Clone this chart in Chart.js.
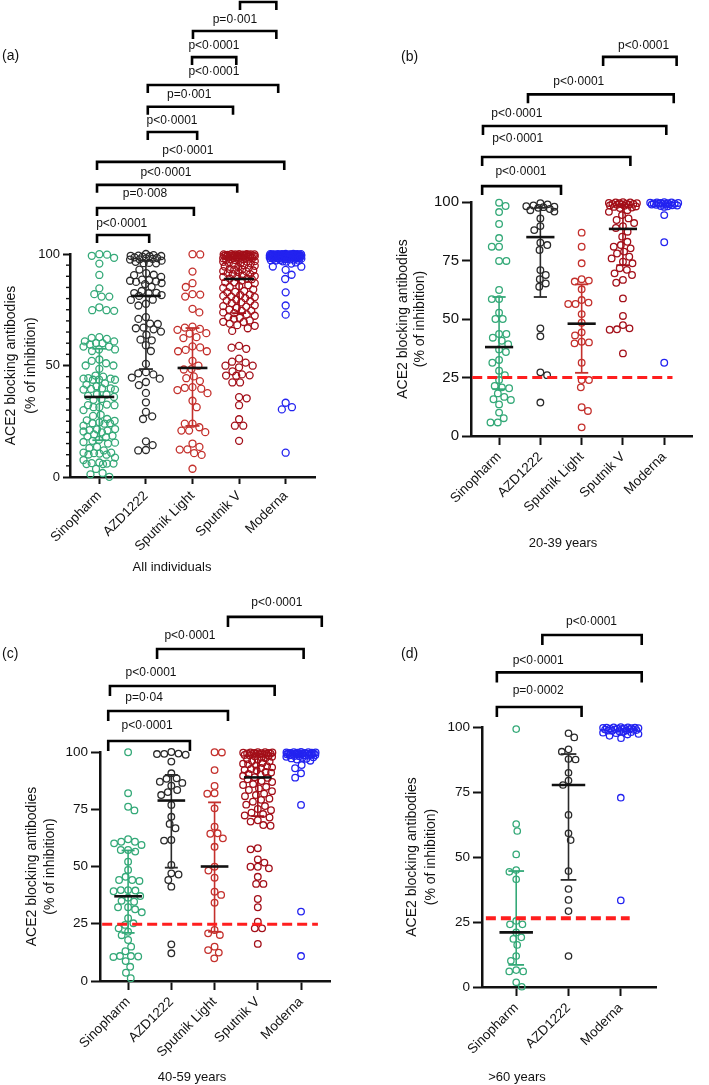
<!DOCTYPE html>
<html><head><meta charset="utf-8">
<script src="https://cdn.jsdelivr.net/npm/chart.js@4.4.1/dist/chart.umd.min.js"></script>
<style>
html,body{margin:0;padding:0;background:#fff;}
body{width:709px;height:1085px;position:relative;overflow:hidden;}
.pn{position:absolute;}
canvas{display:block;}
</style></head>
<body>
<div class="pn" style="left:0;top:0;"><canvas id="cA" width="354" height="580" style="width:354px;height:580px"></canvas></div>
<div class="pn" style="left:354px;top:0;"><canvas id="cB" width="355" height="580" style="width:355px;height:580px"></canvas></div>
<div class="pn" style="left:0;top:580px;"><canvas id="cC" width="354" height="505" style="width:354px;height:505px"></canvas></div>
<div class="pn" style="left:354px;top:580px;"><canvas id="cD" width="355" height="505" style="width:355px;height:505px"></canvas></div>
<script>
// ---------- categories ----------
const cats5 = ['Sinopharm', 'AZD1222', 'Sputnik Light', 'Sputnik V', 'Moderna'];
const cats3 = ['Sinopharm', 'AZD1222', 'Moderna'];
const yTitle = ['ACE2 blocking antibodies', '(% of inhibition)'];

// ---------- (b) 20-39 years ----------
const sinoB = [99.7, 98.3, 95.7, 90.6, 84.6, 80.9, 80.9, 74.8, 74.8, 62.4, 58.5, 58.5, 52.7, 50, 50, 43.6, 43.6, 42, 40.7, 39.2, 37, 35.9, 32.5, 31.3, 27.9, 26, 23.9, 21.4, 20.8, 20.4, 18.2, 16.7, 15.7, 15.4, 13.5, 10, 7.6, 5.8, 5.8];
const azdB = [99.5, 99, 98.5, 98.2, 98, 97.8, 97.5, 97, 96.5, 95.9, 93, 89.7, 88, 82.6, 81.6, 79.5, 70.9, 68.8, 67, 65.2, 63.8, 46, 42.6, 27.2, 26, 14.3];
const slB = [86.9, 80.9, 73.8, 67, 66.4, 66, 62.7, 58.1, 57, 56.4, 56.4, 52.1, 48.4, 44.3, 43, 40.3, 40, 39.6, 31.3, 23.9, 23.9, 20.8, 12.3, 10.7, 3.7];
const svB = [99.9, 99.8, 99.8, 99.6, 99.5, 99.5, 99.3, 99.2, 99.2, 99.0, 98.8, 98.8, 98.5, 98.4, 98.1, 97.9, 97.6, 97.4, 96.5, 95.8, 94.4, 93.0, 92.3, 91.0, 89.7, 88.9, 87.3, 85.2, 83.0, 81.6, 80.9, 80.2, 78.8, 78.0, 76.6, 75.9, 74.5, 73.8, 71.7, 71.0, 69.5, 68.8, 66.7, 65.5, 58.8, 51.3, 47.4, 46.0, 45.6, 45.4, 35.3];
const modB = [99.9, 99.8, 99.8, 99.7, 99.6, 99.6, 99.5, 99.4, 99.3, 99.3, 99.2, 99.1, 99.0, 98.9, 98.8, 98.6, 98.5, 98.3, 98.2, 97.9, 94.4, 82.8, 31.3];
const medB = [38, 85, 48, 88.5, null];
const q1B = [20, 59.4, 27, 73, null];
const q3B = [59.4, 97.5, 64.8, 99, null];

// ---------- (c) 40-59 years ----------
const sinoC = [99.9, 82, 76.1, 74.5, 61.9, 60.8, 60.8, 60.1, 59.4, 57.2, 57.2, 56.5, 52.1, 48.5, 45.5, 44.1, 44.1, 43.7, 39.7, 39.7, 39.5, 39.2, 37.1, 36.4, 35, 34.6, 32.2, 32.2, 31.3, 30, 27.4, 25.2, 24.5, 23, 21.5, 20, 17.9, 15, 13, 10.9, 10.9, 10.7, 10.5, 8.7, 6.2, 3.6, 1.2];
const azdC = [100, 99.3, 99.2, 99.1, 98.8, 95.8, 90.7, 88.5, 88.3, 87, 86.5, 85.3, 83.4, 82.5, 81.2, 76.9, 71.7, 68.6, 66.7, 61.6, 61.3, 50.7, 47, 46.5, 44.1, 41.2, 16, 12.1];
const slC = [99.9, 99.8, 92.1, 85.2, 82, 81.8, 75.4, 67.4, 64.5, 64.3, 62.3, 58.6, 49.9, 48.2, 45.1, 39, 37.6, 34.2, 22.3, 20.8, 20.1, 15, 13.5, 12.4, 9.9];
const svC = [99.9, 99.9, 99.8, 99.8, 99.7, 99.6, 99.6, 99.5, 99.4, 99.3, 99.3, 99.2, 99.1, 99.0, 98.9, 98.7, 98.6, 98.4, 98.1, 97.9, 97.6, 97.3, 96.8, 96.6, 96.1, 95.8, 95.2, 94.9, 94.7, 94.1, 93.8, 93.3, 93.0, 92.6, 92.2, 91.9, 91.3, 91.0, 90.4, 90.1, 89.6, 89.0, 88.7, 88.1, 87.3, 86.9, 86.0, 85.6, 84.8, 84.1, 83.4, 82.9, 81.8, 81.2, 80.7, 79.6, 79.1, 78.3, 77.0, 76.4, 75.1, 74.6, 73.5, 72.9, 72.3, 71.4, 70.2, 69.6, 68.1, 67.8, 58.0, 57.5, 53.1, 51.7, 49.9, 49.9, 49.2, 45.5, 42.4, 42.4, 35.8, 32.2, 25.9, 23.0, 23.0, 16.2];
const modC = [100, 99.9, 99.9, 99.8, 99.8, 99.7, 99.7, 99.6, 99.6, 99.5, 99.5, 99.4, 99.4, 99.3, 99.2, 99.2, 99.1, 99.0, 99.0, 98.9, 98.8, 98.7, 98.6, 98.5, 98.4, 98.2, 98.1, 97.9, 97.7, 97.5, 97.2, 97.0, 96.7, 96.2, 94.3, 92.9, 90.7, 88.8, 76.9, 30.3, 10.9];
const medC = [37, 78.8, 50, 88.9, null];
const q1C = [21, 49.5, 21.5, 72, null];
const q3C = [57, 90, 78, 99, null];

// ---------- (d) >60 years ----------
const sinoD = [99.2, 62.7, 60, 51, 45, 44.3, 41.4, 25.4, 24.1, 24.1, 21, 19.1, 18.5, 16.2, 11.9, 10.1, 6.5, 6, 6, 1.8, 0.1];
const azdD = [97.6, 96, 91.4, 90.5, 87.7, 87.5, 82.4, 79.4, 77.7, 66.2, 59.1, 56.5, 44.6, 37.7, 33.5, 29.2, 11.9];
const modD = [100, 99.9, 99.9, 99.8, 99.8, 99.7, 99.6, 99.6, 99.5, 99.4, 99.4, 99.3, 99.2, 99.1, 99.0, 98.9, 98.8, 98.7, 98.6, 98.5, 98.3, 98.2, 98.0, 97.8, 97.6, 97.3, 97.1, 96.6, 95.7, 72.8, 33.3];
const medD = [21, 77.7, null];
const q1D = [8.5, 41.2, null];
const q3D = [44.6, 89.6, null];

// ---------- (a) all individuals ----------
const sinoA = [99.7, 98.3, 95.7, 90.6, 84.6, 80.9, 80.9, 74.8, 74.8, 62.4, 58.5, 58.5, 52.7, 50, 50, 43.6, 43.6, 42, 40.7, 39.2, 37, 35.9, 32.5, 31.3, 27.9, 26, 23.9, 21.4, 20.8, 20.4, 18.2, 16.7, 15.7, 15.4, 13.5, 10, 7.6, 5.8, 5.8,
  99.9, 82, 76.1, 74.5, 61.9, 60.8, 60.8, 60.1, 59.4, 57.2, 57.2, 56.5, 52.1, 48.5, 45.5, 44.1, 44.1, 43.7, 39.7, 39.7, 39.5, 39.2, 37.1, 36.4, 35, 34.6, 32.2, 32.2, 31.3, 30, 27.4, 25.2, 24.5, 23, 21.5, 20, 17.9, 15, 13, 10.9, 10.9, 10.7, 10.5, 8.7, 6.2, 3.6, 1.2,
  99.2, 62.7, 60, 51, 45, 44.3, 41.4, 25.4, 24.1, 24.1, 21, 19.1, 18.5, 16.2, 11.9, 10.1, 6.5, 6, 6, 1.8, 0.1];
const azdA = [99.5, 99, 98.5, 98.2, 98, 97.8, 97.5, 97, 96.5, 95.9, 93, 89.7, 88, 82.6, 81.6, 79.5, 70.9, 68.8, 67, 65.2, 63.8, 46, 42.6, 27.2, 26, 14.3,
  100, 99.3, 99.2, 99.1, 98.8, 95.8, 90.7, 88.5, 88.3, 87, 86.5, 85.3, 83.4, 82.5, 81.2, 76.9, 71.7, 68.6, 66.7, 61.6, 61.3, 50.7, 47, 46.5, 44.1, 41.2, 16, 12.1,
  97.6, 96, 91.4, 90.5, 87.7, 87.5, 82.4, 79.4, 77.7, 66.2, 59.1, 56.5, 44.6, 37.7, 33.5, 29.2, 11.9];
const slA = [86.9, 80.9, 73.8, 67, 66.4, 66, 62.7, 58.1, 57, 56.4, 56.4, 52.1, 48.4, 44.3, 43, 40.3, 40, 39.6, 31.3, 23.9, 23.9, 20.8, 12.3, 10.7, 3.7,
  99.9, 99.8, 92.1, 85.2, 82, 81.8, 75.4, 67.4, 64.5, 64.3, 62.3, 58.6, 49.9, 48.2, 45.1, 39, 37.6, 34.2, 22.3, 20.8, 20.1, 15, 13.5, 12.4, 9.9];
const svA = [99.9, 99.8, 99.8, 99.6, 99.5, 99.5, 99.3, 99.2, 99.2, 99.0, 98.8, 98.8, 98.5, 98.4, 98.1, 97.9, 97.6, 97.4, 96.5, 95.8, 94.4, 93.0, 92.3, 91.0, 89.7, 88.9, 87.3, 85.2, 83.0, 81.6, 80.9, 80.2, 78.8, 78.0, 76.6, 75.9, 74.5, 73.8, 71.7, 71.0, 69.5, 68.8, 66.7, 65.5, 58.8, 51.3, 47.4, 46.0, 45.6, 45.4, 35.3,
  99.9, 99.9, 99.8, 99.8, 99.7, 99.6, 99.6, 99.5, 99.4, 99.3, 99.3, 99.2, 99.1, 99.0, 98.9, 98.7, 98.6, 98.4, 98.1, 97.9, 97.6, 97.3, 96.8, 96.6, 96.1, 95.8, 95.2, 94.9, 94.7, 94.1, 93.8, 93.3, 93.0, 92.6, 92.2, 91.9, 91.3, 91.0, 90.4, 90.1, 89.6, 89.0, 88.7, 88.1, 87.3, 86.9, 86.0, 85.6, 84.8, 84.1, 83.4, 82.9, 81.8, 81.2, 80.7, 79.6, 79.1, 78.3, 77.0, 76.4, 75.1, 74.6, 73.5, 72.9, 72.3, 71.4, 70.2, 69.6, 68.1, 67.8, 58.0, 57.5, 53.1, 51.7, 49.9, 49.9, 49.2, 45.5, 42.4, 42.4, 35.8, 32.2, 25.9, 23.0, 23.0, 16.2];
const modA = [99.9, 99.8, 99.8, 99.7, 99.6, 99.6, 99.5, 99.4, 99.3, 99.3, 99.2, 99.1, 99.0, 98.9, 98.8, 98.6, 98.5, 98.3, 98.2, 97.9, 94.4, 82.8, 31.3,
  100, 99.9, 99.9, 99.8, 99.8, 99.7, 99.7, 99.6, 99.6, 99.5, 99.5, 99.4, 99.4, 99.3, 99.2, 99.2, 99.1, 99.0, 99.0, 98.9, 98.8, 98.7, 98.6, 98.5, 98.4, 98.2, 98.1, 97.9, 97.7, 97.5, 97.2, 97.0, 96.7, 96.2, 94.3, 92.9, 90.7, 88.8, 76.9, 30.3, 10.9,
  100, 99.9, 99.9, 99.8, 99.8, 99.7, 99.6, 99.6, 99.5, 99.4, 99.4, 99.3, 99.2, 99.1, 99.0, 98.9, 98.8, 98.7, 98.6, 98.5, 98.3, 98.2, 98.0, 97.8, 97.6, 97.3, 97.1, 96.6, 95.7, 72.8, 33.3];
const medA = [35.9, 81.2, 48.9, 88.8, null];
const q1A = [16.5, 48.4, 22.9, 73.5, null];
const q3A = [57.5, 97, 66.8, 98.5, null];

// ---------- cut-off and significance annotations ----------
const cutB = 25, cutC = 24.8, cutD = 26.4;
// [from, to, level, label, labelX, labelY] in axis units
const bracketsA = [
  [-0.05, 1.07, 108.5, 'p<0·0001', 0.48, 113.5],
  [-0.05, 2.03, 120.6, 'p=0·008', 0.98, 126.9],
  [-0.05, 2.96, 131, 'p<0·0001', 1.43, 136.3],
  [-0.05, 3.97, 141.3, 'p<0·0001', 1.9, 146.2],
  [1.04, 2.1, 154.7, 'p<0·0001', 1.56, 160],
  [1.04, 2.87, 166, 'p=0·001', 1.93, 171.3],
  [1.04, 3.84, 175.8, 'p<0·0001', 2.46, 181.6],
  [1.99, 2.94, 188.3, 'p<0·0001', 2.46, 193.3],
  [2.01, 3.8, 200, 'p=0·001', 2.91, 205],
  [3.02, 3.8, 213, '', 0, 0]
];
const bracketsB = [
  [-0.41, 1.5, 106.8, 'p<0·0001', 0.53, 112.8],
  [-0.41, 3.18, 119.2, 'p<0·0001', 0.45, 126.9],
  [-0.39, 4.05, 132.5, 'p<0·0001', 0.43, 137.6],
  [0.7, 4.23, 146, 'p<0·0001', 1.93, 151.3],
  [2.52, 4.3, 162, 'p<0·0001', 3.5, 166.9]
];
const bracketsC = [
  [-0.46, 1.43, 104.8, 'p<0·0001', 0.44, 111.4],
  [-0.46, 2.31, 117.9, 'p=0·04', 0.37, 123.6],
  [-0.42, 3.39, 128.8, 'p<0·0001', 0.53, 134.5],
  [0.67, 4.06, 145, 'p<0·0001', 1.43, 151],
  [2.31, 4.48, 159, 'p<0·0001', 3.44, 165]
];
const bracketsD = [
  [-0.37, 1.25, 107.7, 'p=0·0002', 0.42, 113.8],
  [-0.37, 2.4, 121, 'p<0·0001', 0.42, 125.6],
  [0.5, 2.4, 135.4, 'p<0·0001', 1.44, 140.6]
];

// ---------- styles ----------
const FONT = "'Liberation Sans', Arial, Helvetica, sans-serif";
const INK = '#111';
const col5 = ['#34a978', '#2a2a2a', '#c4302c', '#a30f19', '#2323f0'];
const col3 = ['#34a978', '#2a2a2a', '#2323f0'];

// ---------- swarm layout (horizontal offsets computed from the library scales) ----------
function swarmOffsets(pys, maxHalf, d) {
  const order = pys.map((p, i) => i).sort((a, b) => pys[a] - pys[b]);
  const placed = [], res = new Array(pys.length);
  let flip = 1;
  for (const i of order) {
    const py = pys[i];
    const ivs = [];
    for (const q of placed) {
      const dy = Math.abs(q.y - py);
      if (dy < d) { const w = Math.sqrt(d * d - dy * dy); ivs.push([q.x - w, q.x + w]); }
    }
    const cands = [0];
    ivs.forEach(v => cands.push(v[0], v[1]));
    cands.sort((a, b) => (Math.abs(a) - Math.abs(b)) || (flip * (b - a)));
    let best = null;
    for (const c of cands) {
      if (Math.abs(c) > maxHalf) break;
      if (ivs.every(v => c <= v[0] + 1e-6 || c >= v[1] - 1e-6)) { best = c; break; }
    }
    if (best === null) {
      let bestScore = -1;
      for (let c = -maxHalf; c <= maxHalf + 1e-9; c += 0.5) {
        let m = Infinity;
        for (const q of placed) { const dd = Math.hypot(q.x - c, q.y - py); if (dd < m) m = dd; }
        if (m > bestScore + 1e-9) { bestScore = m; best = c; }
      }
    }
    if (best !== 0) flip = -flip;
    placed.push({ x: best, y: py });
    res[i] = best;
  }
  return res;
}

const decor = {
  id: 'decor',
  afterDraw(chart, args, o) {
    const { ctx } = chart;
    const x = chart.scales.x, y = chart.scales.y;
    ctx.save();
    // minor y ticks
    if (o.minorStep) {
      ctx.strokeStyle = INK; ctx.lineWidth = 1.4;
      for (let v = 0; v <= 100; v += o.minorStep) {
        if (v % o.majorStep === 0) continue;
        const py = y.getPixelForValue(v);
        ctx.beginPath(); ctx.moveTo(x.left - o.minorLen, py); ctx.lineTo(x.left, py); ctx.stroke();
      }
    }
    // significance brackets
    ctx.strokeStyle = '#000'; ctx.lineWidth = o.bw; ctx.lineJoin = 'miter'; ctx.lineCap = 'butt';
    ctx.fillStyle = INK; ctx.font = '12px ' + FONT; ctx.textAlign = 'center'; ctx.textBaseline = 'middle';
    o.brackets.forEach(b => {
      const x1 = x.getPixelForValue(b[0]), x2 = x.getPixelForValue(b[1]), py = y.getPixelForValue(b[2]);
      ctx.beginPath();
      ctx.moveTo(x1, py + o.tip); ctx.lineTo(x1, py); ctx.lineTo(x2, py); ctx.lineTo(x2, py + o.tip);
      ctx.stroke();
      if (b[3]) ctx.fillText(b[3], x.getPixelForValue(b[4]), y.getPixelForValue(b[5]));
    });
    // x-axis title
    ctx.font = '13px ' + FONT;
    ctx.fillText(o.xTitle[0], o.xTitle[1], o.xTitle[2]);
    // panel letter
    ctx.font = '14px ' + FONT; ctx.textAlign = 'left';
    ctx.fillText(o.letter[0], o.letter[1], o.letter[2]);
    ctx.restore();
  }
};

function makePanel(id, P) {
  const g = P.geo;
  const unit = (g.right - g.left) / (g.xmax - g.xmin);
  const datasets = [];
  P.series.forEach((vals, ci) => {
    datasets.push({
      type: 'scatter', label: P.cats[ci], swarmIndex: ci,
      data: vals.map(v => ({ x: ci, y: v })),
      pointRadius: P.r, pointHoverRadius: P.r, pointBorderWidth: 1.3, pointHoverBorderWidth: 1.3,
      borderColor: P.colors[ci], pointBorderColor: P.colors[ci],
      backgroundColor: 'rgba(0,0,0,0)', pointBackgroundColor: 'rgba(0,0,0,0)',
      order: 3, clip: false
    });
    if (P.q1[ci] != null) {
      datasets.push({
        type: 'line', label: P.cats[ci] + ' IQR',
        data: [{ x: ci, y: P.q1[ci] }, { x: ci, y: P.q3[ci] }],
        borderColor: P.colors[ci], borderWidth: 1.6,
        pointStyle: 'line', pointRadius: 0.15 * unit, pointHoverRadius: 0.15 * unit,
        pointBorderColor: P.colors[ci], pointBorderWidth: 1.8, pointBackgroundColor: P.colors[ci],
        order: 2, clip: false, fill: false
      });
    }
  });
  datasets.push({
    type: 'scatter', label: 'median',
    data: P.med.map((m, i) => m == null ? null : { x: i, y: m }).filter(p => p),
    pointStyle: 'line', pointRadius: 0.32 * unit, pointHoverRadius: 0.32 * unit,
    pointBorderColor: INK, borderColor: INK, pointBorderWidth: 2.6, order: 1, clip: false
  });
  if (P.cut != null) {
    datasets.push({
      type: 'line', label: 'cut-off',
      data: [{ x: P.cutX[0], y: P.cut }, { x: P.cutX[1], y: P.cut }],
      borderColor: '#ff1e1e', borderWidth: P.cutW, borderDash: P.dash, pointRadius: 0,
      order: 0, clip: false, fill: false
    });
  }
  const axisGrid = { drawOnChartArea: false, drawTicks: true, tickLength: P.tickLen, tickWidth: 2, tickColor: INK, color: INK };
  const axisBorder = { display: true, color: INK, width: 2.5 };
  const cfg = {
    type: 'scatter',
    data: { datasets },
    options: {
      responsive: false, animation: false, devicePixelRatio: 1, events: [],
      layout: { padding: { left: 0, top: g.top, right: g.w - g.right, bottom: 0 } },
      plugins: {
        legend: { display: false }, tooltip: { enabled: false },
        decor: {
          brackets: P.brackets, tip: P.tip, bw: 2.6,
          minorStep: P.minorStep, majorStep: P.yStep, minorLen: 4,
          xTitle: P.xTitle, letter: P.letter
        }
      },
      scales: {
        x: {
          type: 'linear', min: g.xmin, max: g.xmax,
          afterBuildTicks: s => { s.ticks = P.cats.map((c, i) => ({ value: i })); },
          afterFit: s => { s.height = g.h - g.bottom; },
          ticks: {
            autoSkip: false, minRotation: 45, maxRotation: 45, padding: P.xPad, color: INK,
            font: { family: FONT, size: P.catFont },
            callback: v => P.cats[Math.round(v)]
          },
          grid: axisGrid, border: axisBorder
        },
        y: {
          type: 'linear', min: 0, max: 100,
          afterFit: s => { s.width = g.left; },
          ticks: { stepSize: P.yStep, padding: 3, color: INK, font: { family: FONT, size: P.yFont } },
          grid: axisGrid, border: axisBorder,
          title: {
            display: true, text: yTitle, color: INK,
            font: { family: FONT, size: 14, lineHeight: P.titleLH + 'px' },
            padding: { top: P.titlePad, bottom: 0 }
          }
        }
      }
    },
    plugins: [decor]
  };
  const chart = new Chart(document.getElementById(id), cfg);
  // beeswarm spread
  const xs = chart.scales.x, ys = chart.scales.y;
  const u = xs.getPixelForValue(1) - xs.getPixelForValue(0);
  chart.data.datasets.forEach(ds => {
    if (ds.swarmIndex === undefined) return;
    const pys = ds.data.map(p => ys.getPixelForValue(p.y));
    const offs = swarmOffsets(pys, 0.34 * u, 2 * P.r + 0.7);
    ds.data.forEach((p, k) => { p.x = ds.swarmIndex + offs[k] / u; });
  });
  chart.update('none');
  return chart;
}

makePanel('cA', {
  geo: { w: 354, h: 580, left: 70, right: 315, top: 254, bottom: 477, xmin: -0.63, xmax: 4.63 },
  cats: cats5, colors: col5, series: [sinoA, azdA, slA, svA, modA],
  med: medA, q1: q1A, q3: q3A, cut: null,
  brackets: bracketsA, tip: 8, r: 3.5, yStep: 50, minorStep: 5, yFont: 13, catFont: 13.5,
  tickLen: 7, xPad: 4, titleLH: 20, titlePad: 1,
  xTitle: ['All individuals', 172, 567], letter: ['(a)', 2, 56]
});
makePanel('cB', {
  geo: { w: 355, h: 580, left: 117, right: 353, top: 202, bottom: 436, xmin: -0.68, xmax: 4.68 },
  cats: cats5, colors: col5, series: [sinoB, azdB, slB, svB, modB],
  med: medB, q1: q1B, q3: q3B, cut: cutB, cutX: [-0.65, 4.2], cutW: 3, dash: [10, 5],
  brackets: bracketsB, tip: 9, r: 3.3, yStep: 25, minorStep: 0, yFont: 15, catFont: 13.5,
  tickLen: 9, xPad: 4, titleLH: 17.5, titlePad: 40,
  xTitle: ['20-39 years', 209, 543], letter: ['(b)', 47, 57]
});
makePanel('cC', {
  geo: { w: 354, h: 505, left: 100, right: 330, top: 172, bottom: 401, xmin: -0.65, xmax: 4.67 },
  cats: cats5, colors: col5, series: [sinoC, azdC, slC, svC, modC],
  med: medC, q1: q1C, q3: q3C, cut: cutC, cutX: [-0.6, 4.39], cutW: 3, dash: [10, 5],
  brackets: bracketsC, tip: 10, r: 3.3, yStep: 25, minorStep: 0, yFont: 13.5, catFont: 13.5,
  tickLen: 9, xPad: 4, titleLH: 18, titlePad: 23,
  xTitle: ['40-59 years', 192, 497], letter: ['(c)', 2, 74]
});
makePanel('cD', {
  geo: { w: 355, h: 505, left: 128, right: 302, top: 147, bottom: 407, xmin: -0.654, xmax: 2.673 },
  cats: cats3, colors: col3, series: [sinoD, azdD, modD],
  med: medD, q1: q1D, q3: q3D, cut: cutD, cutX: [-0.58, 2.17], cutW: 4, dash: [10, 5],
  brackets: bracketsD, tip: 10, r: 3.2, yStep: 25, minorStep: 0, yFont: 13.5, catFont: 13.5,
  tickLen: 9, xPad: 4, titleLH: 19.5, titlePad: 48,
  xTitle: ['>60 years', 163, 497], letter: ['(d)', 47, 74]
});
</script>
</body></html>
